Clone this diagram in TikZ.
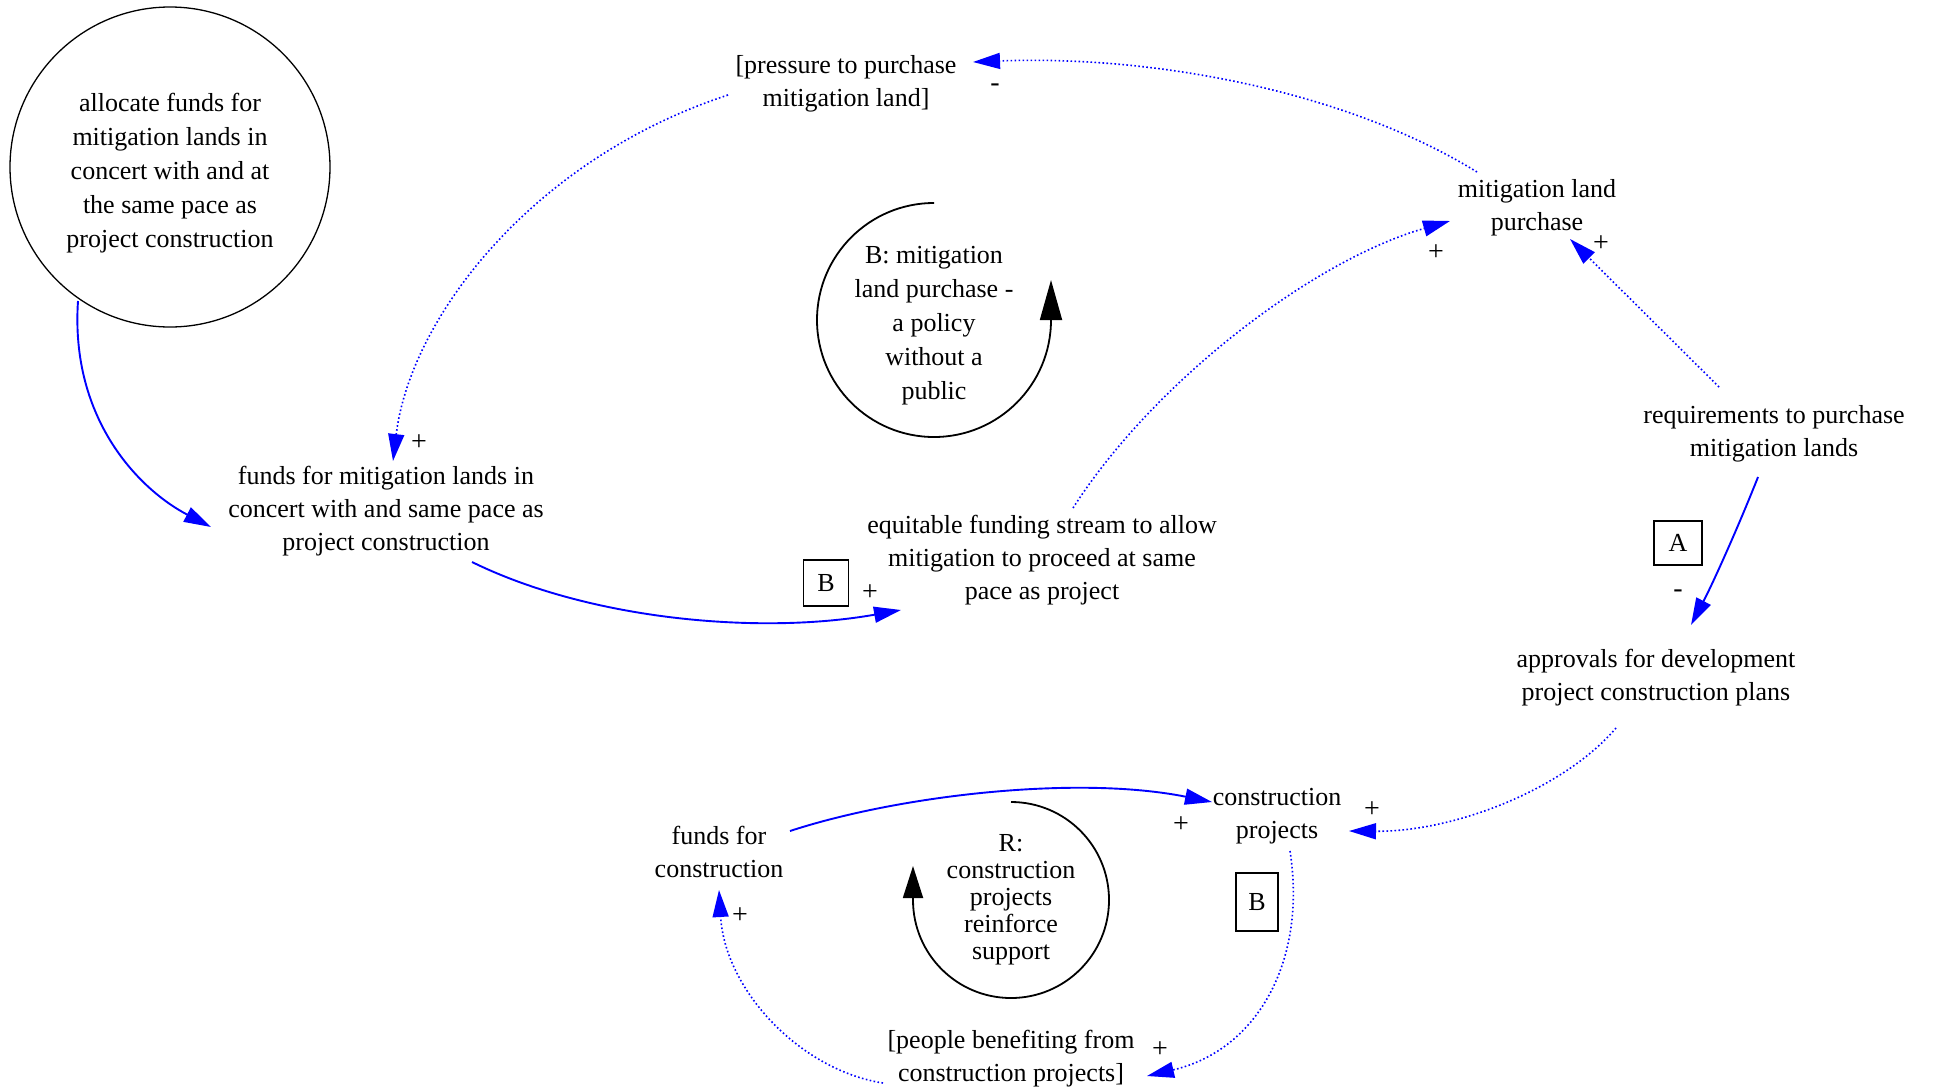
\documentclass[tikz,border=0pt]{standalone}
\usepackage{fontspec}
\setmainfont{Liberation Serif}
\usetikzlibrary{arrows.meta,calc}
\begin{document}
\begin{tikzpicture}[x=1pt,y=-1pt,
  var/.style={font=\fontsize{26}{33}\selectfont, align=center, inner sep=0pt},
  pol/.style={font=\fontsize{28}{33}\selectfont, inner sep=0pt},
  lbox/.style={draw, line width=1.3pt, font=\fontsize{26}{33}\selectfont, inner sep=0pt},
  solidlink/.style={draw=blue, line width=1.9pt, -{Triangle[length=27pt,width=16pt]}},
  dotlink/.style={draw=blue, line width=1.6pt, dash pattern=on 1.6pt off 2.4pt, -{Triangle[length=27pt,width=16pt]}},
  loopline/.style={draw=black, line width=1.8pt}
]
\useasboundingbox (0,0) rectangle (1935,1090);
% variables
\node[circle, draw, line width=1.3pt, minimum size=320pt, inner sep=0pt] (alloc) at (170,167) {};
\node[var, font=\fontsize{26}{34}\selectfont] (alloctext) at (170,173)
  {allocate funds for\\mitigation lands in\\concert with and at\\the same pace as\\project construction};
\node[var] (pressure) at (846,84) {[pressure to purchase\\mitigation land]};
\node[var] (mitig) at (1537,208) {mitigation land\\purchase};
\node[var] (fundsmit) at (386,511) {funds for mitigation lands in\\concert with and same pace as\\project construction};
\node[var] (equit) at (1042,560) {equitable funding stream to allow\\mitigation to proceed at same\\pace as project};
\node[var] (req) at (1774,434) {requirements to purchase\\mitigation lands};
\node[var] (appr) at (1656,678) {approvals for development\\project construction plans};
\node[var] (cproj) at (1277,816) {construction\\projects};
\node[var] (fcons) at (719,852) {funds for\\construction};
\node[var] (people) at (1011,1059) {[people benefiting from\\construction projects]};

% loop labels
\node[var, font=\fontsize{26}{34}\selectfont] (btext) at (934,326) {B: mitigation\\land purchase -\\a policy\\without a\\public};
\node[var, font=\fontsize{26}{27}\selectfont] (rtext) at (1011,900) {R:\\construction\\projects\\reinforce\\support};
\coordinate (bc) at (934,320);
\coordinate (rc) at (1011,900);

% loop boxes
\node[lbox, minimum width=45pt, minimum height=46pt] (boxB1) at (826,583) {B};
\node[lbox, minimum width=48pt, minimum height=44pt] (boxA) at (1678,543) {A};
\node[lbox, minimum width=42pt, minimum height=58pt] (boxB2) at (1257,902) {B};

% loop arrows
\draw[loopline, -{Triangle[length=40pt,width=22pt]}] ([shift={(0,-117)}]bc) arc[start angle=270, end angle=0, radius=117] -- ++(0,-40);
\draw[loopline, -{Triangle[length=32pt,width=20pt]}] ([shift={(0,-98)}]rc) arc[start angle=270, end angle=540, radius=98] -- ++(0,-34);

% links
\draw[solidlink] ([shift={(-92,134)}]alloc.center) .. controls (70,420) and (140,490) .. ([shift={(-175,16)}]fundsmit.center);
\draw[dotlink] ([shift={(-118,11)}]pressure.center) .. controls (530,160) and (410,320) .. ([shift={(7,-50)}]fundsmit.center);
\draw[solidlink] ([shift={(86,51)}]fundsmit.center) .. controls (590,620) and (760,635) .. ([shift={(-141,50)}]equit.center);
\draw[dotlink] ([shift={(31,-52)}]equit.center) .. controls (1155,380) and (1314,260) .. ([shift={(-87,13)}]mitig.center);
\draw[dotlink] ([shift={(-60,-36)}]mitig.center) .. controls (1344,90) and (1150,55) .. ([shift={(127,-22)}]pressure.center);
\draw[dotlink] ([shift={(-55,-47)}]req.center) -- ([shift={(33,31)}]mitig.center);
\draw[solidlink] ([shift={(-16,43)}]req.center) .. controls (1737,530) and (1712,585) .. ([shift={(35,-53)}]appr.center);
\draw[dotlink] ([shift={(-40,50)}]appr.center) .. controls (1563,790) and (1453,832) .. ([shift={(72,15)}]cproj.center);
\draw[solidlink] ([shift={(71,-21)}]fcons.center) .. controls (900,795) and (1078,775) .. ([shift={(-65,-14)}]cproj.center);
\draw[dotlink] ([shift={(13,35)}]cproj.center) .. controls (1307,960) and (1258,1050) .. ([shift={(136,17)}]people.center);
\draw[dotlink] ([shift={(-128,24)}]people.center) .. controls (800,1070) and (725,990) .. ([shift={(0,38)}]fcons.center);

% polarity labels
\node[pol] (p1) at (419,443) {+};
\node[pol] (p2) at (870,593) {+};
\node[pol] (p3) at (1436,253) {+};
\node[pol] (p4) at (995,88) {-};
\node[pol] (p5) at (1601,244) {+};
\node[pol] (p6) at (1678,594) {-};
\node[pol] (p7) at (1372,810) {+};
\node[pol] (p8) at (1181,825) {+};
\node[pol] (p9) at (1160,1050) {+};
\node[pol] (p10) at (740,916) {+};
\end{tikzpicture}
\end{document}
